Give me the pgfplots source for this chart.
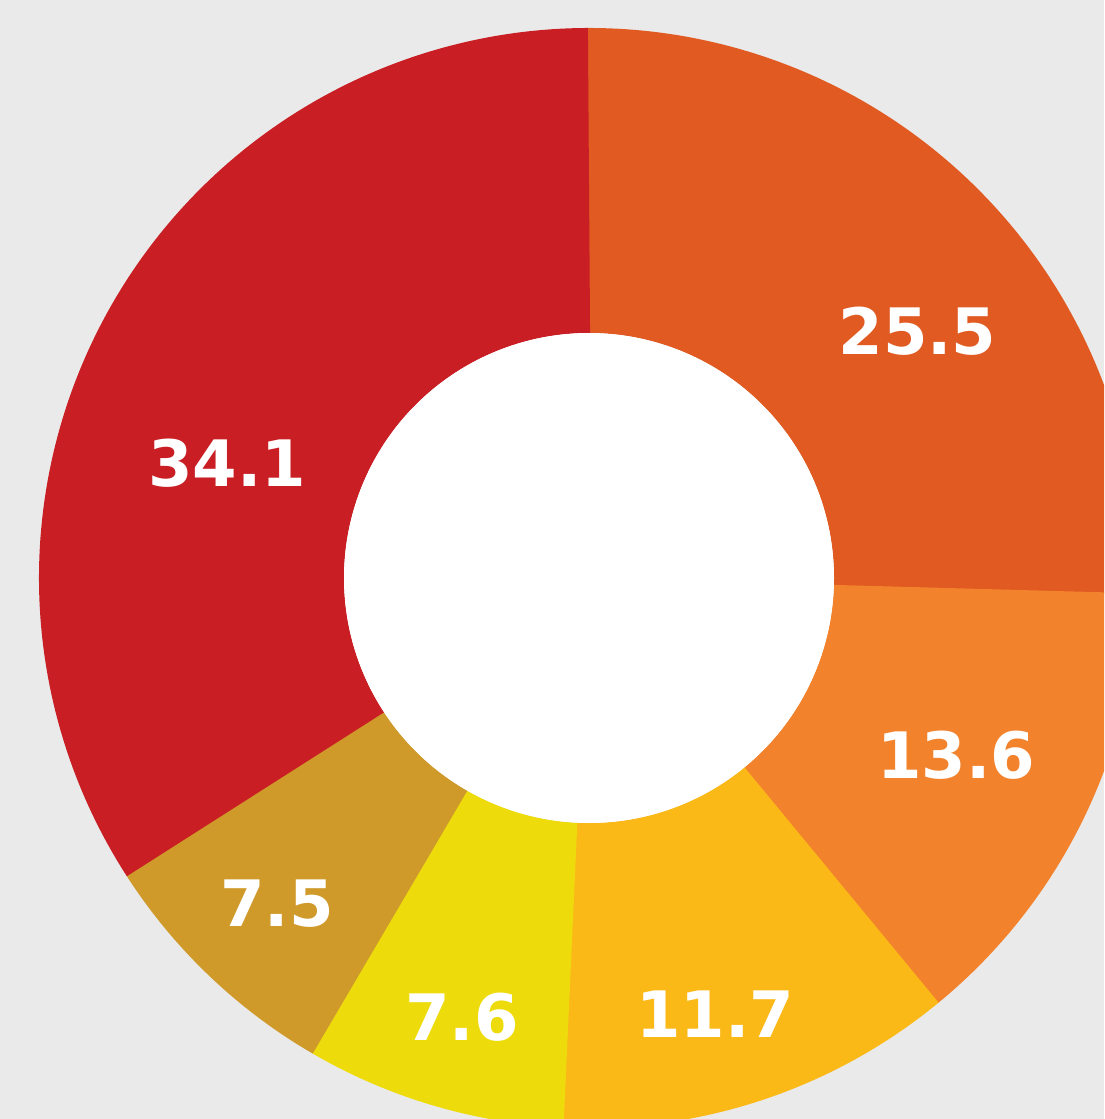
\documentclass[border=0pt]{standalone}
\usepackage{pgfplots}
\pgfplotsset{compat=1.18}
\usepgfplotslibrary{polar}
\usepackage{fontspec}
\newfontfamily\labfont{DejaVu Sans}
\definecolor{bg}{HTML}{EAEAEA}
\definecolor{c1}{HTML}{E05A22}
\definecolor{c2}{HTML}{F2822C}
\definecolor{c3}{HTML}{FBB918}
\definecolor{c4}{HTML}{EEDB0C}
\definecolor{c5}{HTML}{CF9A2A}
\definecolor{c6}{HTML}{C81E24}
\tikzset{lab/.style={font=\labfont\bfseries\fontsize{64}{70}\selectfont, text=white, inner sep=0pt}}
\begin{document}
\begin{tikzpicture}
\useasboundingbox (0,0) rectangle (1104pt,1119pt);
\fill[bg] (0,0) rectangle (1104pt,1119pt);
\clip (0,0) rectangle (1104pt,1119pt);
\begin{polaraxis}[
  hide axis, scale only axis, clip=false,
  width=1100pt, height=1100pt,
  ymin=0, ymax=550,
  anchor=center, at={(589pt,541pt)},
  every axis plot/.append style={no markers, line cap=butt},
]
% slice shares (percent), clockwise from 12 o'clock
\pgfmathsetmacro\sA{90}
\pgfmathsetmacro\eA{\sA-3.6*25.5}
\pgfmathsetmacro\eB{\eA-3.6*13.6}
\pgfmathsetmacro\eC{\eB-3.6*11.7}
\pgfmathsetmacro\eD{\eC-3.6*7.6}
\pgfmathsetmacro\eE{\eD-3.6*7.5}
\pgfmathsetmacro\eF{\eE-3.6*34.1}
% each slice starts a hair early so no seams show between neighbours
\addplot[draw=c1, line width=305pt, domain=\sA+0.2:\eA, samples=200] {397.5};
\addplot[draw=c2, line width=305pt, domain=\eA+0.2:\eB, samples=120] {397.5};
\addplot[draw=c3, line width=305pt, domain=\eB+0.2:\eC, samples=120] {397.5};
\addplot[draw=c4, line width=305pt, domain=\eC+0.2:\eD, samples=80] {397.5};
\addplot[draw=c5, line width=305pt, domain=\eD+0.2:\eE, samples=80] {397.5};
\addplot[draw=c6, line width=305pt, domain=\eE+0.2:\eF, samples=250] {397.5};
% white hole
\addplot[fill=white, draw=none, domain=0:360, samples=300] {245} -- cycle;
% labels
\node[lab] at (axis cs:36.94,411) {25.5};
\node[lab] at (axis cs:-25.75,407.5) {13.6};
\node[lab] at (axis cs:-73.88,453.8) {11.7};
\node[lab] at (axis cs:-106.13,457) {7.6};
\node[lab] at (axis cs:-133.74,451.2) {7.5};
\node[lab] at (axis cs:162.38,379.8) {34.1};
\end{polaraxis}
\end{tikzpicture}
\end{document}
